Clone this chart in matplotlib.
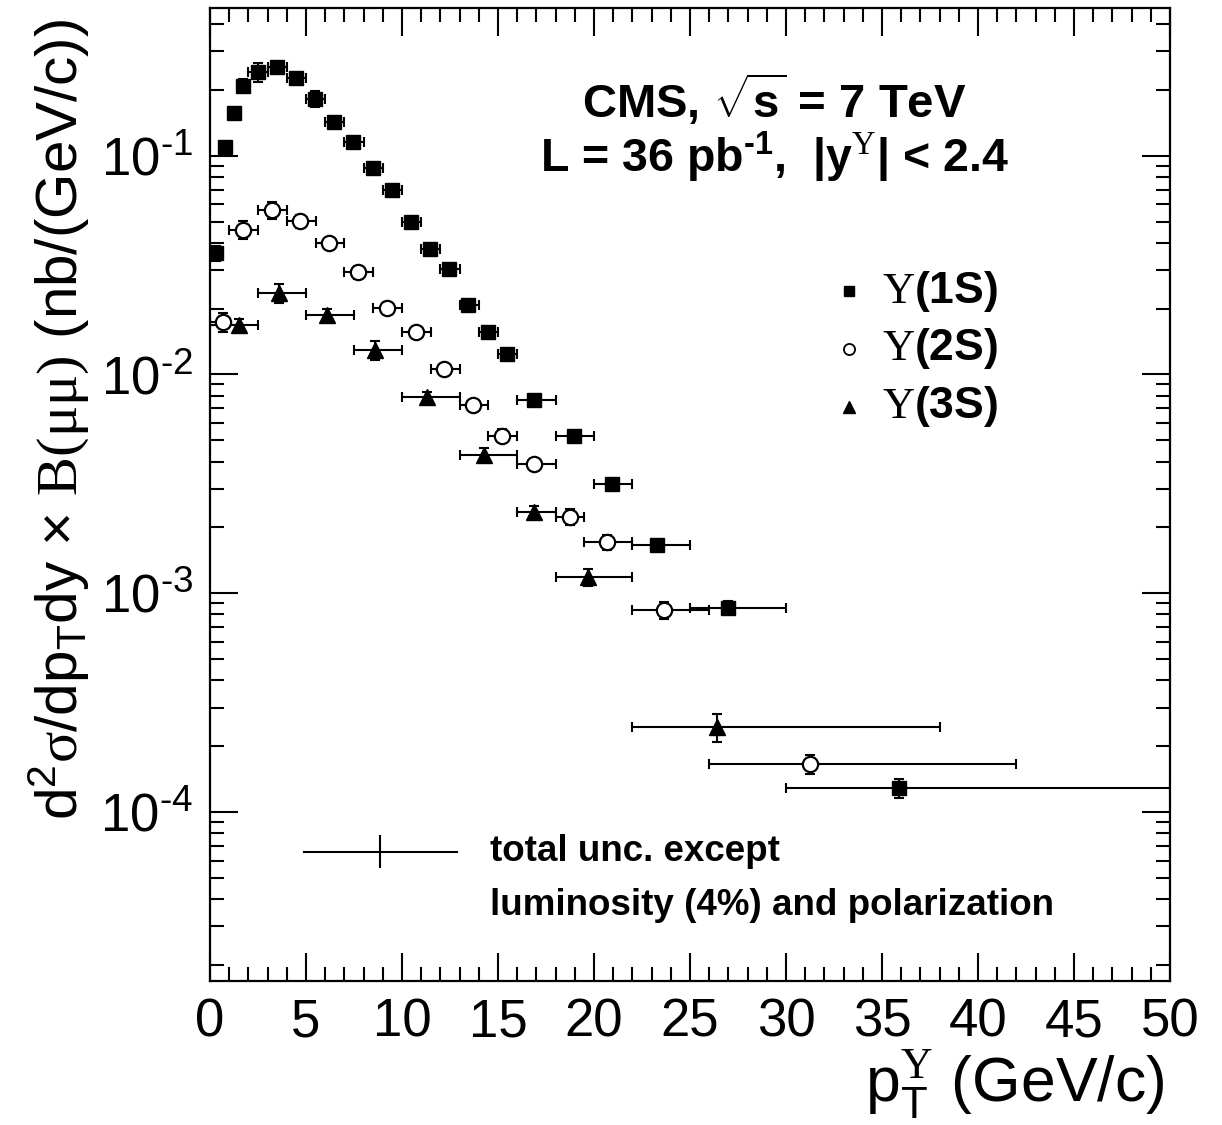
import numpy as np
import matplotlib
matplotlib.use("Agg")
import matplotlib.pyplot as plt
from matplotlib.ticker import LogLocator, MultipleLocator, NullFormatter, FuncFormatter

plt.rcParams['font.family'] = ['Liberation Sans', 'DejaVu Sans']
plt.rcParams['mathtext.fontset'] = 'custom'
plt.rcParams['mathtext.rm'] = 'Liberation Sans'
plt.rcParams['mathtext.it'] = 'Liberation Sans:italic'
plt.rcParams['mathtext.bf'] = 'Liberation Sans:bold'
plt.rcParams['mathtext.sf'] = 'Liberation Serif'
plt.rcParams['axes.unicode_minus'] = False

# Upsilon(1S): pT bin edges, mean pT, cross section, rel. y error
pt_1s = [0.31, 0.78, 1.25, 1.74, 2.48, 3.47, 4.46, 5.47, 6.48, 7.47, 8.47, 9.46,
         10.45, 11.46, 12.47, 13.45, 14.46, 15.45, 16.9, 18.97, 20.95, 23.26, 27.0, 35.9]
lo_1s = [0, 0.5, 1, 1.5, 2, 3, 4, 5, 6, 7, 8, 9, 10, 11, 12, 13, 14, 15, 16, 18, 20, 22, 25, 30]
hi_1s = [0.5, 1, 1.5, 2, 3, 4, 5, 6, 7, 8, 9, 10, 11, 12, 13, 14, 15, 16, 18, 20, 22, 25, 30, 50]
xs_1s = [0.0359, 0.110, 0.157, 0.209, 0.242, 0.253, 0.226, 0.182, 0.142, 0.116, 0.0875, 0.0694,
         0.0498, 0.0376, 0.0303, 0.0207, 0.0156, 0.0124, 0.00764, 0.00521, 0.00315, 0.00166,
         0.00086, 1.29e-4]
er_1s = [0.08, 0.05, 0.05, 0.07, 0.10, 0.05, 0.05, 0.08, 0.05, 0.05, 0.05, 0.05,
         0.05, 0.05, 0.05, 0.05, 0.05, 0.05, 0.05, 0.05, 0.05, 0.06, 0.07, 0.10]

# Upsilon(2S)
pt_2s = [0.66, 1.74, 3.21, 4.69, 6.22, 7.69, 9.2, 10.71, 12.2, 13.68, 15.23, 16.88,
         18.75, 20.66, 23.65, 31.25]
lo_2s = [0, 1, 2.5, 4, 5.5, 7, 8.5, 10, 11.5, 13, 14.5, 16, 18, 19.5, 22, 26]
hi_2s = [1, 2.5, 4, 5.5, 7, 8.5, 10, 11.5, 13, 14.5, 16, 18, 19.5, 22, 26, 42]
xs_2s = [0.01729, 0.0459, 0.0566, 0.0501, 0.0399, 0.0294, 0.0202, 0.01563, 0.01062,
         0.00727, 0.00526, 0.00391, 0.00224, 0.00171, 8.39e-4, 1.66e-4]
er_2s = [0.10, 0.09, 0.09, 0.07, 0.05, 0.07, 0.05, 0.05, 0.05, 0.05, 0.07, 0.05,
         0.08, 0.08, 0.09, 0.10]

# Upsilon(3S)
pt_3s = [1.53, 3.59, 6.08, 8.59, 11.28, 14.29, 16.89, 19.7, 26.4]
lo_3s = [0, 2.5, 5, 7.5, 10, 13, 16, 18, 22]
hi_3s = [2.5, 5, 7.5, 10, 13, 16, 18, 22, 38]
xs_3s = [0.01687, 0.0236, 0.01875, 0.01297, 0.00785, 0.00430, 0.00236, 0.00119, 2.45e-4]
er_3s = [0.06, 0.10, 0.06, 0.10, 0.06, 0.07, 0.06, 0.09, 0.15]

fig = plt.figure(figsize=(12.22, 11.25), dpi=100)
ax = fig.add_axes([0.1718, 0.128, 0.9575 - 0.1718, 0.9929 - 0.128])

series = [
    (pt_1s, lo_1s, hi_1s, xs_1s, er_1s, dict(marker='s', ms=10, mfc='black', mec='black')),
    (pt_2s, lo_2s, hi_2s, xs_2s, er_2s, dict(marker='o', ms=11, mfc='white', mec='black', mew=1.6)),
    (pt_3s, lo_3s, hi_3s, xs_3s, er_3s, dict(marker='^', ms=11, mfc='black', mec='black')),
]
for pt, lo, hi, xs, er, st in series:
    pt = np.array(pt); xs = np.array(xs); er = np.array(er)
    xerr = [pt - np.array(lo), np.array(hi) - pt]
    yerr = xs * er
    ax.errorbar(pt, xs, xerr=xerr, yerr=yerr, fmt='none', ecolor='black',
                elinewidth=1.5, capsize=3.5, capthick=1.5, zorder=2)
    ax.plot(pt, xs, ls='none', zorder=3, **st)

ax.set_yscale('log')
ax.set_xlim(0, 50)
ax.set_ylim(1.69e-5, 0.473)

ax.xaxis.set_major_locator(MultipleLocator(5))
ax.xaxis.set_minor_locator(MultipleLocator(1))
ax.yaxis.set_major_locator(LogLocator(base=10, numticks=10))
ax.yaxis.set_minor_locator(LogLocator(base=10, subs=np.arange(2, 10), numticks=20))
ax.yaxis.set_minor_formatter(NullFormatter())
# hyphen (U+2010) instead of the long math minus, as in the original
ax.yaxis.set_major_formatter(FuncFormatter(
    lambda v, p: '10$^{\\mathregular{\u2010%d}}$' % abs(int(round(np.log10(v))))))

ax.tick_params(which='both', direction='in', top=True, right=True, width=1.5,
               labelsize=38, colors='black')
ax.tick_params(which='major', length=20)
ax.tick_params(which='minor', length=10)
ax.tick_params(axis='x', pad=12)
ax.tick_params(axis='y', pad=12)
for s in ax.spines.values():
    s.set_linewidth(1.6)

# axis titles
fig.text(0.953, 0.021, r'p$_{\mathregular{T}}^{\mathsf{\Upsilon}}$ (GeV/c)', fontsize=45,
         ha='right', va='baseline')
fig.text(0.049, 0.627,
         r'd$^{\mathregular{2}}$$\mathsf{\sigma}$/dp$_{\mathregular{T}}$dy $\mathregular{\times}$ $\mathsf{B(\mu\mu)}$ (nb/(GeV/c))',
         fontsize=42, rotation=90, ha='center', va='center')

# header text
ax.text(0.5875, 0.905, r'CMS, $\sqrt{\mathbf{s}}$ = 7 TeV', transform=ax.transAxes,
        fontsize=34, fontweight='bold', ha='center', va='center')
ax.text(0.5875, 0.846, 'L = 36 pb$^{\\mathbf{\u20101}}$,  |y$^{\\mathsf{\\Upsilon}}$| < 2.4',
        transform=ax.transAxes, fontsize=33.5, fontweight='bold', ha='center', va='center')

# legend
leg_y = [0.709, 0.650, 0.590]
leg_lab = [r'$\mathsf{\Upsilon}$(1S)', r'$\mathsf{\Upsilon}$(2S)', r'$\mathsf{\Upsilon}$(3S)']
leg_mk = [dict(marker='s', ms=7, mfc='black', mec='black'),
          dict(marker='o', ms=8, mfc='white', mec='black', mew=1.3),
          dict(marker='^', ms=8, mfc='black', mec='black')]
for yy, lab, mk in zip(leg_y, leg_lab, leg_mk):
    ax.plot([0.666], [yy], transform=ax.transAxes, ls='none', clip_on=False, **mk)
    ax.text(0.70, yy, lab, transform=ax.transAxes, fontsize=32, fontweight='bold',
            ha='left', va='center')

# uncertainty key
ax.plot([0.098, 0.257], [0.133, 0.133], transform=ax.transAxes, color='black', lw=1.5)
ax.plot([0.177, 0.177], [0.117, 0.149], transform=ax.transAxes, color='black', lw=1.5)
ax.text(0.292, 0.133, 'total unc. except', transform=ax.transAxes, fontsize=26.5,
        fontweight='bold', ha='left', va='center')
ax.text(0.292, 0.078, 'luminosity (4%) and polarization', transform=ax.transAxes,
        fontsize=26.5, fontweight='bold', ha='left', va='center')

fig.savefig('out.png', dpi=100)
